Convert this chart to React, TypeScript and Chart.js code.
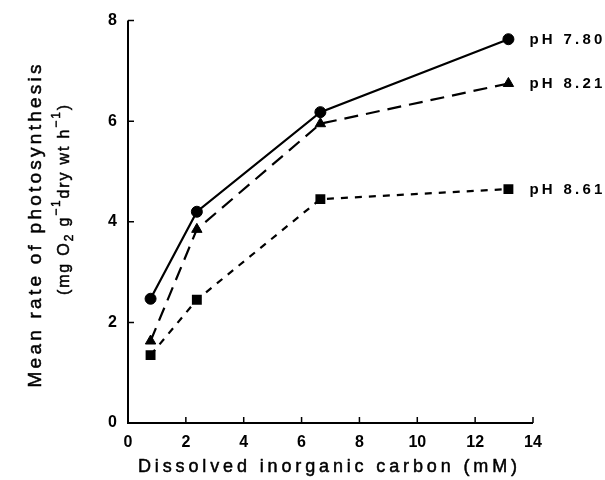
import React, { useEffect, useRef } from 'react';
import { Chart, registerables } from 'chart.js';

Chart.register(...registerables);

// ---- data ----
const dicMM = [0.78, 2.38, 6.65, 13.15];
const ph780 = [2.47, 4.2, 6.18, 7.63];
const ph821 = [1.63, 3.85, 5.95, 6.75];
const ph861 = [1.35, 2.45, 4.45, 4.65];
const seriesLabels = ['pH 7.80', 'pH 8.21', 'pH 8.61'];
const xTickValues = [0, 2, 4, 6, 8, 10, 12, 14];
const yTickValues = [0, 2, 4, 6, 8];
const xTitle = 'Dissolved inorganic carbon (mM)';
const yTitleLine1 = 'Mean rate of photosynthesis';

const FAMILY = '"Liberation Sans", Arial, sans-serif';

type Seg = { text: string; font: string; dy: number };

function drawSpaced(ctx: CanvasRenderingContext2D, segs: Seg[], x: number, baseline: number, target: number, align: 'center' | 'left', stroke = 0) {
  const chars: { ch: string; font: string; dy: number; w: number }[] = [];
  segs.forEach((s) => {
    ctx.font = s.font;
    for (const ch of s.text) chars.push({ ch, font: s.font, dy: s.dy, w: ctx.measureText(ch).width });
  });
  const sum = chars.reduce((a, c) => a + c.w, 0);
  const spacing = chars.length > 1 ? (target - sum) / (chars.length - 1) : 0;
  let cx = align === 'center' ? x - target / 2 : x;
  ctx.textAlign = 'left';
  ctx.textBaseline = 'alphabetic';
  ctx.strokeStyle = '#000';
  ctx.lineWidth = stroke;
  ctx.lineJoin = 'round';
  for (const c of chars) {
    ctx.font = c.font;
    ctx.fillText(c.ch, cx, baseline + c.dy);
    if (stroke > 0) ctx.strokeText(c.ch, cx, baseline + c.dy);
    cx += c.w + spacing;
  }
}

const decorPlugin = {
  id: 'decor',
  beforeDatasetsDraw(chart: any) {
    const ctx: CanvasRenderingContext2D = chart.ctx;
    const xs = chart.scales.x;
    const ys = chart.scales.y;
    const x0 = xs.getPixelForValue(xTickValues[0]);
    const x1 = xs.getPixelForValue(xTickValues[xTickValues.length - 1]);
    const y0 = ys.getPixelForValue(yTickValues[0]);
    const y1 = ys.getPixelForValue(yTickValues[yTickValues.length - 1]);
    ctx.save();
    ctx.strokeStyle = '#000';
    ctx.lineWidth = 2;
    ctx.beginPath();
    ctx.moveTo(x0, y1);
    ctx.lineTo(x0, y0);
    ctx.lineTo(x1, y0);
    ctx.stroke();
    ctx.lineWidth = 1.5;
    ctx.beginPath();
    xTickValues.slice(1).forEach((v) => {
      const px = xs.getPixelForValue(v);
      ctx.moveTo(px, y0);
      ctx.lineTo(px, y0 - 6);
    });
    yTickValues.slice(1).forEach((v) => {
      const py = ys.getPixelForValue(v);
      ctx.moveTo(x0, py);
      ctx.lineTo(x0 + 6, py);
    });
    ctx.stroke();
    ctx.restore();
  },
  afterDraw(chart: any) {
    const ctx: CanvasRenderingContext2D = chart.ctx;
    ctx.save();
    ctx.fillStyle = '#000';
    // x title
    drawSpaced(ctx, [{ text: xTitle, font: `18px ${FAMILY}`, dy: 0 }], 138, 472, 379, 'left', 0.5);
    // y title line 1
    ctx.save();
    ctx.translate(41, 226);
    ctx.rotate(-Math.PI / 2);
    drawSpaced(ctx, [{ text: yTitleLine1, font: `19px ${FAMILY}`, dy: 0 }], 0, 0, 323, 'center', 0.5);
    ctx.restore();
    // y title line 2
    ctx.save();
    ctx.translate(69, 200);
    ctx.rotate(-Math.PI / 2);
    const f = `16px ${FAMILY}`;
    const fs = `12px ${FAMILY}`;
    drawSpaced(ctx, [
      { text: '(mg O', font: f, dy: 0 },
      { text: '2', font: fs, dy: 4 },
      { text: ' g', font: f, dy: 0 },
      { text: '\u22121', font: fs, dy: -9 },
      { text: 'dry wt h', font: f, dy: 0 },
      { text: '\u22121', font: fs, dy: -9 },
      { text: ')', font: f, dy: 0 },
    ], 0, 0, 190, 'center', 0.5);
    ctx.restore();
    // series labels at the end of each line
    chart.data.datasets.forEach((ds: any, i: number) => {
      const meta = chart.getDatasetMeta(i);
      const last = meta.data[meta.data.length - 1];
      drawSpaced(ctx, [{ text: seriesLabels[i], font: `bold 15px ${FAMILY}`, dy: 0 }], last.x + 21, last.y + 5, 73, 'left');
    });
    ctx.restore();
  },
};

function toPoints(ys: number[]) {
  return dicMM.map((x, i) => ({ x, y: ys[i] }));
}

export default function App() {
  const ref = useRef<HTMLCanvasElement>(null);
  useEffect(() => {
    if (!ref.current) return;
    const chart = new Chart(ref.current, {
      type: 'scatter',
      data: {
        datasets: [
          {
            label: seriesLabels[0],
            data: toPoints(ph780),
            showLine: true,
            borderColor: '#000',
            backgroundColor: '#000',
            borderWidth: 2.2,
            pointStyle: 'circle',
            pointRadius: 5.5,
            pointBorderWidth: 1,
          },
          {
            label: seriesLabels[1],
            data: toPoints(ph821),
            showLine: true,
            borderColor: '#000',
            backgroundColor: '#000',
            borderWidth: 2.2,
            borderDash: [14, 8],
            pointStyle: 'triangle',
            pointRadius: 6,
            pointBorderWidth: 1,
          },
          {
            label: seriesLabels[2],
            data: toPoints(ph861),
            showLine: true,
            borderColor: '#000',
            backgroundColor: '#000',
            borderWidth: 2.2,
            borderDash: [7, 7],
            pointStyle: 'rect',
            pointRadius: 7,
            pointBorderWidth: 0,
          },
        ],
      },
      options: {
        responsive: false,
        animation: false,
        devicePixelRatio: 1,
        layout: { padding: { left: 0, top: 15, right: 72, bottom: 0 } },
        plugins: { legend: { display: false }, tooltip: { enabled: false } },
        scales: {
          x: {
            type: 'linear',
            min: xTickValues[0],
            max: xTickValues[xTickValues.length - 1],
            afterBuildTicks: (s: any) => { s.ticks = xTickValues.map((v) => ({ value: v })); },
            afterFit: (s: any) => { s.height = 57; },
            grid: { display: false, drawTicks: false },
            border: { display: false },
            ticks: { color: '#000', padding: 10, font: { family: FAMILY, size: 16, weight: 'bold' } },
          },
          y: {
            type: 'linear',
            min: yTickValues[0],
            max: yTickValues[yTickValues.length - 1],
            afterBuildTicks: (s: any) => { s.ticks = yTickValues.map((v) => ({ value: v })); },
            afterFit: (s: any) => { s.width = 128; },
            grid: { display: false, drawTicks: false },
            border: { display: false },
            ticks: { color: '#000', padding: 11, font: { family: FAMILY, size: 16, weight: 'bold' } },
          },
        },
      },
      plugins: [decorPlugin],
    });
    return () => chart.destroy();
  }, []);
  return (
    <div style={{ position: 'absolute', left: 0, top: 0, width: 605, height: 480, background: '#fff' }}>
      <canvas ref={ref} width={605} height={480} style={{ width: 605, height: 480 }} />
    </div>
  );
}
